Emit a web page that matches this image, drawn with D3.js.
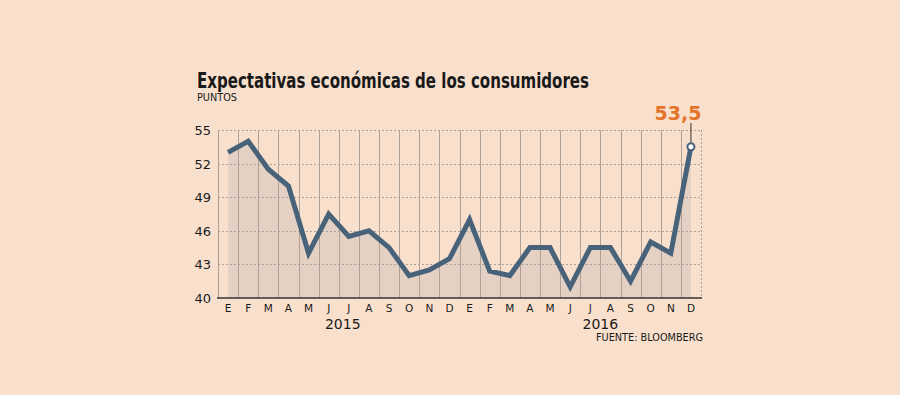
<!DOCTYPE html>
<html>
<head>
<meta charset="utf-8">
<script src="https://cdn.jsdelivr.net/npm/d3@7"></script>
<style>
	body { margin: 0; background: #f9e0cd; }
	svg { display: block; }
	text { font-family: "DejaVu Sans", Verdana, sans-serif; fill: #1a1a1a; }
</style>
</head>
<body>
<svg class="chart"></svg>
<script>
// data
const months = ["E","F","M","A","M","J","J","A","S","O","N","D","E","F","M","A","M","J","J","A","S","O","N","D"];
const values = [53, 54, 51.5, 50, 44, 47.5, 45.5, 46, 44.5, 42, 42.5, 43.5,
	47, 42.4, 42, 44.5, 44.5, 41, 44.5, 44.5, 41.5, 45, 44, 53.5];
const yTicks = [40, 43, 46, 49, 52, 55];
const years = ["2015", "2016"];
const yearAt = [5.7, 18.5]; // month index under which the year label sits

const size = { w: 900, h: 395 };
const margin = { t: 130, r: 199, b: 97, l: 218 };

const svg = d3.select("svg.chart").attr("width", size.w).attr("height", size.h);
svg.append("rect").attr("width", size.w).attr("height", size.h).attr("fill", "#f9e0cd");

const xScale = d3.scaleBand()
	.domain(d3.range(months.length))
	.range([margin.l, size.w - margin.r]);
const yScale = d3.scaleLinear()
	.domain([40, 55])
	.range([size.h - margin.b, margin.t]);

const cx = (i) => xScale(i) + xScale.bandwidth() / 2;

const g = svg.append("g");

// shaded area under the line
g.append("path")
	.datum(values)
	.attr("fill", "#e5d1c3")
	.attr("d", d3.area().x((d, i) => cx(i)).y0(yScale(40)).y1((d) => yScale(d)));

// vertical grid (band edges)
d3.range(months.length + 1).forEach((i) => {
	let x = i < months.length ? xScale(i) : xScale.range()[1];
	g.append("line")
		.attr("x1", Math.round(x) + 0.5).attr("x2", Math.round(x) + 0.5)
		.attr("y1", yScale(55)).attr("y2", yScale(40))
		.attr("stroke", i === months.length ? "#a8a09a" : "#ada198")
		.attr("stroke-dasharray", i === months.length ? "2,2" : null)
		.attr("stroke-width", 1);
});

// horizontal dashed grid
yTicks.filter((t) => t > 40).forEach((t) => {
	g.append("line")
		.attr("x1", margin.l).attr("x2", xScale.range()[1])
		.attr("y1", Math.round(yScale(t)) + 0.5).attr("y2", Math.round(yScale(t)) + 0.5)
		.attr("stroke", "#a8a09a")
		.attr("stroke-dasharray", "2,2");
});

// y axis labels
const yAxis = g.append("g")
	.attr("transform", `translate(${margin.l - 7},0)`)
	.call(d3.axisLeft(yScale).tickValues(yTicks).tickSize(0).tickPadding(0));
yAxis.select(".domain").remove();
yAxis.selectAll("text").attr("font-size", 13).attr("fill", "#1a1a1a").attr("dy", "0.35em");

// x axis
const xAxis = g.append("g")
	.attr("transform", `translate(0,${yScale(40)})`)
	.call(d3.axisBottom(xScale).tickFormat((i) => months[i]).tickSize(0).tickPadding(7));
xAxis.select(".domain").attr("stroke", "#333").attr("stroke-width", 1.5).attr("d", `M${margin.l - 1},0H${xScale.range()[1] + 1}`);
xAxis.selectAll("text").attr("font-size", 10.5).attr("fill", "#1a1a1a");

years.forEach((y, k) => {
	g.append("text")
		.attr("x", xScale(0) + xScale.step() * (yearAt[k] + 0.5))
		.attr("y", 329)
		.attr("text-anchor", "middle")
		.attr("font-size", 14)
		.text(y);
});

// line
g.append("path")
	.datum(values)
	.attr("fill", "none")
	.attr("stroke", "#48627a")
	.attr("stroke-width", 5)
	.attr("stroke-linejoin", "miter")
	.attr("d", d3.line().x((d, i) => cx(i)).y((d) => yScale(d)));

// last point callout
const last = values.length - 1;
g.append("line")
	.attr("x1", cx(last)).attr("x2", cx(last))
	.attr("y1", 123).attr("y2", yScale(values[last]) - 4)
	.attr("stroke", "#333").attr("stroke-width", 1);
g.append("circle")
	.attr("cx", cx(last)).attr("cy", yScale(values[last]))
	.attr("r", 3.5)
	.attr("fill", "#fff")
	.attr("stroke", "#48627a")
	.attr("stroke-width", 2);
g.append("text")
	.attr("x", cx(last) - 13)
	.attr("y", 120)
	.attr("text-anchor", "middle")
	.attr("font-size", 19)
	.attr("font-weight", "bold")
	.style("fill", "#e4742a")
	.text(String(values[last]).replace(".", ","));

// titles
svg.append("text")
	.attr("x", 197).attr("y", 88)
	.attr("font-size", 20.5)
	.attr("font-weight", "bold")
	.attr("textLength", 392)
	.attr("lengthAdjust", "spacingAndGlyphs")
	.text("Expectativas económicas de los consumidores");
svg.append("text")
	.attr("x", 197).attr("y", 101)
	.attr("font-size", 10)
	.attr("textLength", 40)
	.attr("lengthAdjust", "spacingAndGlyphs")
	.text("PUNTOS");
svg.append("text")
	.attr("x", 703).attr("y", 341)
	.attr("text-anchor", "end")
	.attr("font-size", 10)
	.attr("textLength", 107)
	.attr("lengthAdjust", "spacingAndGlyphs")
	.text("FUENTE: BLOOMBERG");
</script>
</body>
</html>
